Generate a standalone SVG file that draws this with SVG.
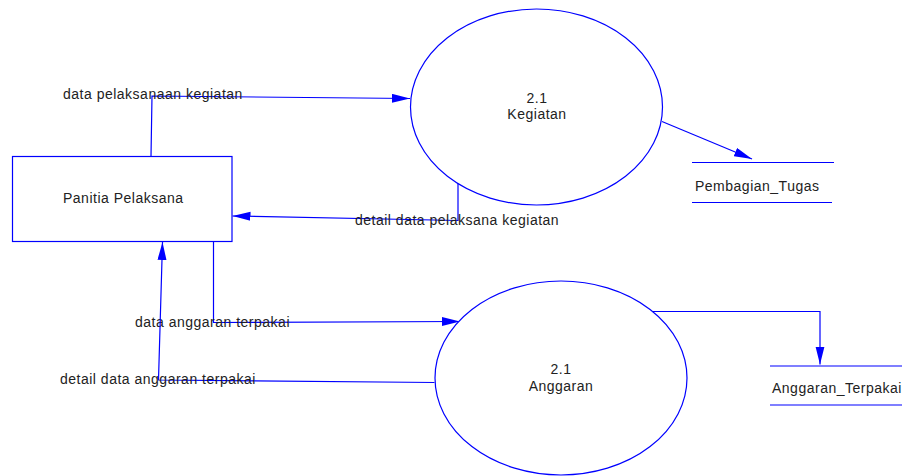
<svg xmlns="http://www.w3.org/2000/svg" width="902" height="476" viewBox="0 0 902 476">
  <style>
    .shape { fill: #ffffff; stroke: #0000ff; stroke-width: 1.2; }
    .flow { fill: none; stroke: #0000ff; stroke-width: 1.2; marker-end: url(#arrow); }
    .line { fill: none; stroke: #0000ff; stroke-width: 1.2; }
    text { font-family: "Liberation Sans", Arial, sans-serif; font-size: 14px; letter-spacing: 0.5px; fill: #222222; }
    .mid { text-anchor: middle; }
  </style>
  <defs>
    <marker id="arrow" markerUnits="userSpaceOnUse" markerWidth="19" markerHeight="10" refX="18" refY="4.5" orient="auto">
      <path d="M0,0 L18,4.5 L0,9 z" fill="#0000ff"/>
    </marker>
  </defs>
  <rect width="902" height="476" fill="#ffffff"/>

  <!-- data flows -->
  <g id="connectors">
    <polyline class="flow" points="151,156.5 152,96 410,98.5"/>
    <text x="63" y="99">data pelaksanaan kegiatan</text>

    <polyline class="flow" points="458,183 458,220.5 232.5,216"/>
    <text x="355" y="224.5">detail data pelaksana kegiatan</text>

    <line class="flow" x1="662" y1="121.5" x2="752" y2="159"/>

    <polyline class="flow" points="213.5,241.5 213.5,322.5 460,321.5"/>
    <text x="135" y="327">data anggaran terpakai</text>

    <polyline class="flow" points="434.5,382.5 158.5,380 162.5,242"/>
    <text x="60" y="384">detail data anggaran terpakai</text>

    <polyline class="flow" points="652.5,311.5 820,311.5 820,364.5"/>
  </g>

  <!-- external entity -->
  <g id="panitia-pelaksana">
    <rect class="shape" x="12.5" y="156.5" width="219.5" height="85"/>
    <text x="63" y="203">Panitia Pelaksana</text>
  </g>

  <!-- processes -->
  <g id="proses-kegiatan">
    <ellipse class="shape" cx="536.5" cy="107" rx="126" ry="98"/>
    <text class="mid" x="537" y="102.5">2.1</text>
    <text class="mid" x="537" y="118.5">Kegiatan</text>
  </g>

  <g id="proses-anggaran">
    <ellipse class="shape" cx="561" cy="378" rx="126" ry="97"/>
    <text class="mid" x="561" y="374">2.1</text>
    <text class="mid" x="561" y="390.5">Anggaran</text>
  </g>

  <!-- data stores -->
  <g id="store-pembagian-tugas">
    <line class="line" x1="692" y1="162.5" x2="834" y2="162.5"/>
    <line class="line" x1="692" y1="202.5" x2="832" y2="202.5"/>
    <text x="695" y="190.5">Pembagian_Tugas</text>
  </g>

  <g id="store-anggaran-terpakai">
    <line class="line" x1="770" y1="366" x2="902" y2="366"/>
    <line class="line" x1="770" y1="405" x2="902" y2="405"/>
    <text x="772" y="393">Anggaran_Terpakai</text>
  </g>
</svg>
